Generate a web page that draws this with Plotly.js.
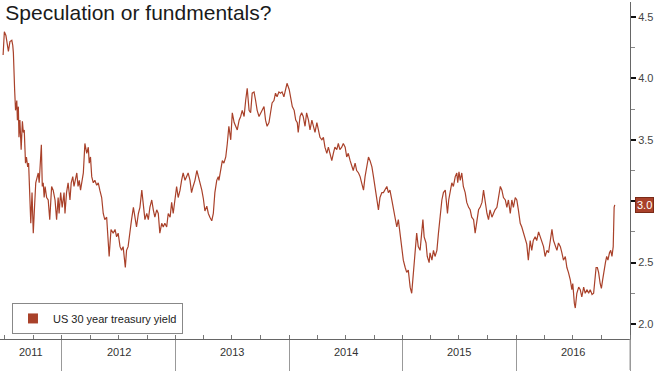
<!DOCTYPE html>
<html>
<head>
<meta charset="utf-8">
<script src="https://cdn.plot.ly/plotly-3.0.1.min.js"></script>
<style>html,body{margin:0;padding:0;background:#fff;}#chart{width:659px;height:375px;}</style>
</head>
<body>
<div id="chart"></div>
<script>
const chartTitle = "Speculation or fundmentals?";
const seriesName = "US 30 year treasury yield";
const yearLabels = ["2011", "2012", "2013", "2014", "2015", "2016"];
const yearStarts = ["2011-01-01", "2012-01-01", "2013-01-01", "2014-01-01", "2015-01-01", "2016-01-01", "2017-01-01"];
const yTickVals = [2.0, 2.5, 3.0, 3.5, 4.0, 4.5];
const xRange = ["2011-06-16", "2017-01-01"];
const yRange = [1.878, 4.622];

const dates = [
"2011-06-26","2011-06-30","2011-07-05","2011-07-13","2011-07-18","2011-07-24","2011-07-27","2011-07-29",
"2011-08-02","2011-08-05","2011-08-09","2011-08-11","2011-08-14","2011-08-16","2011-08-19","2011-08-23",
"2011-08-27","2011-08-30","2011-09-02","2011-09-06","2011-09-09","2011-09-13","2011-09-16","2011-09-20",
"2011-09-23","2011-09-27","2011-10-01","2011-10-05","2011-10-09","2011-10-14","2011-10-17","2011-10-20",
"2011-10-23","2011-10-27","2011-10-30","2011-11-02","2011-11-05","2011-11-08","2011-11-13","2011-11-18",
"2011-11-23","2011-11-29","2011-12-04","2011-12-10","2011-12-15","2011-12-20","2011-12-23","2011-12-28",
"2012-01-02","2012-01-08","2012-01-11","2012-01-16","2012-01-21","2012-01-27","2012-01-31","2012-02-05",
"2012-02-09","2012-02-13","2012-02-18","2012-02-22","2012-02-26","2012-03-01","2012-03-05","2012-03-10",
"2012-03-15","2012-03-21","2012-03-26","2012-03-29","2012-04-02","2012-04-06","2012-04-11","2012-04-16",
"2012-04-22","2012-04-27","2012-05-02","2012-05-08","2012-05-13","2012-05-18","2012-05-24","2012-05-29",
"2012-06-01","2012-06-07","2012-06-14","2012-06-20","2012-06-25","2012-06-30","2012-07-06","2012-07-11",
"2012-07-16","2012-07-23","2012-07-27","2012-08-01","2012-08-07","2012-08-12","2012-08-18","2012-08-23",
"2012-08-28","2012-09-03","2012-09-08","2012-09-14","2012-09-19","2012-09-24","2012-09-30","2012-10-05",
"2012-10-10","2012-10-16","2012-10-21","2012-10-26","2012-11-01","2012-11-06","2012-11-11","2012-11-17",
"2012-11-22","2012-11-27","2012-12-03","2012-12-08","2012-12-14","2012-12-19","2012-12-24","2012-12-30",
"2013-01-04","2013-01-09","2013-01-15","2013-01-20","2013-01-25","2013-01-31","2013-02-05","2013-02-10",
"2013-02-16","2013-02-21","2013-02-26","2013-03-04","2013-03-10","2013-03-15","2013-03-20","2013-03-26",
"2013-03-31","2013-04-05","2013-04-11","2013-04-16","2013-04-21","2013-04-27","2013-05-02","2013-05-07",
"2013-05-13","2013-05-18","2013-05-20","2013-05-26","2013-05-31","2013-06-05","2013-06-11","2013-06-16",
"2013-06-21","2013-06-27","2013-07-02","2013-07-08","2013-07-13","2013-07-18","2013-07-24","2013-07-29",
"2013-08-03","2013-08-09","2013-08-14","2013-08-19","2013-08-25","2013-08-30","2013-09-04","2013-09-10",
"2013-09-15","2013-09-20","2013-09-26","2013-10-01","2013-10-06","2013-10-12","2013-10-17","2013-10-22",
"2013-10-28","2013-11-02","2013-11-07","2013-11-13","2013-11-18","2013-11-23","2013-11-29","2013-12-04",
"2013-12-09","2013-12-15","2013-12-20","2013-12-25","2014-01-01","2014-01-06","2014-01-11","2014-01-17",
"2014-01-22","2014-01-27","2014-01-30","2014-02-05","2014-02-10","2014-02-15","2014-02-21","2014-02-26",
"2014-03-04","2014-03-09","2014-03-15","2014-03-20","2014-03-25","2014-03-31","2014-04-05","2014-04-10",
"2014-04-16","2014-04-21","2014-04-26","2014-05-02","2014-05-07","2014-05-12","2014-05-18","2014-05-23",
"2014-05-28","2014-06-03","2014-06-08","2014-06-13","2014-06-19","2014-06-24","2014-06-30","2014-07-05",
"2014-07-10","2014-07-16","2014-07-21","2014-07-26","2014-08-01","2014-08-06","2014-08-12","2014-08-17",
"2014-08-22","2014-08-28","2014-09-02","2014-09-08","2014-09-13","2014-09-18","2014-09-24","2014-09-29",
"2014-10-04","2014-10-10","2014-10-15","2014-10-20","2014-10-26","2014-10-31","2014-11-05","2014-11-11",
"2014-11-16","2014-11-21","2014-11-27","2014-12-02","2014-12-07","2014-12-13","2014-12-18","2014-12-23",
"2014-12-29","2015-01-03","2015-01-09","2015-01-14","2015-01-19","2015-01-25","2015-01-30","2015-02-04",
"2015-02-09","2015-02-15","2015-02-20","2015-02-26","2015-03-07","2015-03-11","2015-03-17","2015-03-21",
"2015-03-27","2015-03-30","2015-04-05","2015-04-10","2015-04-15","2015-04-21","2015-04-26","2015-05-01",
"2015-05-07","2015-05-12","2015-05-18","2015-05-21","2015-05-25","2015-05-29","2015-06-03","2015-06-08",
"2015-06-13","2015-06-19","2015-06-24","2015-06-27","2015-07-01","2015-07-05","2015-07-10","2015-07-15",
"2015-07-21","2015-07-26","2015-08-01","2015-08-06","2015-08-11","2015-08-17","2015-08-22","2015-08-28",
"2015-09-02","2015-09-07","2015-09-13","2015-09-18","2015-09-23","2015-09-29","2015-10-04","2015-10-09",
"2015-10-15","2015-10-20","2015-10-25","2015-10-31","2015-11-05","2015-11-11","2015-11-16","2015-11-21",
"2015-11-27","2015-12-02","2015-12-07","2015-12-13","2015-12-18","2015-12-23","2015-12-29","2016-01-03",
"2016-01-08","2016-01-14","2016-01-19","2016-01-24","2016-01-30","2016-02-04","2016-02-09","2016-02-15",
"2016-02-20","2016-02-25","2016-03-02","2016-03-07","2016-03-13","2016-03-18","2016-03-24","2016-03-29",
"2016-04-03","2016-04-09","2016-04-14","2016-04-19","2016-04-25","2016-04-30","2016-05-06","2016-05-11",
"2016-05-16","2016-05-22","2016-05-27","2016-06-01","2016-06-07","2016-06-12","2016-06-17","2016-06-23",
"2016-06-28","2016-07-01","2016-07-06","2016-07-09","2016-07-14","2016-07-20","2016-07-25","2016-07-30",
"2016-08-05","2016-08-10","2016-08-16","2016-08-21","2016-08-26","2016-09-01","2016-09-06","2016-09-11",
"2016-09-14","2016-09-18","2016-09-22","2016-09-27","2016-10-01","2016-10-05","2016-10-09","2016-10-14",
"2016-10-18","2016-10-22","2016-10-27","2016-10-31","2016-11-04","2016-11-08","2016-11-11","2016-11-13"
];

const yields = [
4.19,4.38,4.35,4.22,4.30,4.31,4.27,4.21,
3.91,3.74,3.82,3.66,3.77,3.52,3.66,3.42,
3.65,3.56,3.58,3.31,3.36,3.28,3.31,3.03,
2.82,3.07,2.74,2.95,3.15,3.20,3.23,3.15,
3.28,3.46,3.12,3.15,3.03,3.12,3.03,3.01,
2.85,3.12,3.09,3.01,2.85,3.03,2.90,3.07,
2.95,3.07,2.90,3.07,3.15,3.01,3.15,3.20,
3.12,3.17,3.23,3.12,3.17,3.09,3.17,3.23,
3.47,3.39,3.44,3.31,3.36,3.20,3.15,3.17,
3.13,3.15,3.09,3.03,2.90,2.85,2.87,2.71,
2.55,2.77,2.74,2.77,2.71,2.74,2.63,2.60,
2.63,2.46,2.60,2.63,2.77,2.85,2.95,2.85,
2.79,2.90,2.95,3.09,2.95,2.85,2.90,2.85,
2.95,3.01,2.93,2.87,2.93,2.90,2.74,2.82,
2.79,2.82,2.79,2.90,2.87,2.99,2.90,3.03,
3.12,3.03,3.09,3.17,3.23,3.17,3.20,3.23,
3.17,3.07,3.12,3.17,3.25,3.20,3.17,3.09,
3.02,2.92,2.96,2.90,2.87,2.84,2.90,3.07,
3.17,3.20,3.17,3.28,3.33,3.31,3.36,3.47,
3.61,3.50,3.72,3.64,3.61,3.58,3.66,3.69,
3.74,3.69,3.82,3.92,3.74,3.72,3.88,3.89,
3.82,3.74,3.69,3.72,3.74,3.77,3.66,3.61,
3.64,3.72,3.80,3.82,3.88,3.85,3.89,3.88,
3.89,3.85,3.92,3.96,3.91,3.82,3.77,3.74,
3.66,3.64,3.56,3.69,3.72,3.69,3.61,3.72,
3.66,3.58,3.66,3.61,3.56,3.64,3.58,3.52,
3.50,3.52,3.44,3.39,3.44,3.39,3.33,3.39,
3.44,3.42,3.47,3.42,3.44,3.47,3.44,3.36,
3.39,3.33,3.28,3.25,3.31,3.25,3.23,3.20,
3.15,3.09,3.20,3.28,3.36,3.33,3.28,3.20,
3.12,3.01,2.93,3.03,3.07,3.07,3.09,3.12,
3.07,3.09,3.01,2.95,2.87,2.79,2.85,2.74,
2.63,2.52,2.46,2.42,2.44,2.30,2.25,2.42,
2.58,2.74,2.63,2.60,2.85,2.71,2.66,2.55,
2.50,2.58,2.52,2.60,2.55,2.60,2.74,2.87,
3.01,3.07,3.09,3.01,2.90,3.01,3.09,3.15,
3.12,3.20,3.23,3.15,3.24,3.17,3.23,3.12,
3.07,2.99,2.95,2.93,2.87,2.85,2.74,2.87,
2.93,2.95,2.99,3.09,2.99,2.90,2.85,2.93,
2.87,2.90,2.93,2.95,3.03,3.12,3.09,3.03,
3.01,2.95,3.01,2.90,3.01,2.95,3.03,3.01,
2.93,2.82,2.79,2.74,2.70,2.65,2.52,2.68,
2.60,2.68,2.71,2.68,2.75,2.71,2.68,2.63,
2.55,2.60,2.58,2.68,2.77,2.68,2.63,2.60,
2.66,2.63,2.58,2.52,2.55,2.46,2.42,2.36,
2.28,2.33,2.17,2.13,2.25,2.30,2.28,2.22,
2.30,2.25,2.28,2.25,2.28,2.24,2.25,2.36,
2.46,2.46,2.42,2.33,2.29,2.36,2.44,2.50,
2.55,2.52,2.58,2.60,2.55,2.63,2.95,2.97
];

const lineColor = "#a9412a";
const fontFam = "Liberation Sans, Arial, sans-serif";

function toMs(s){ return new Date(s + "T00:00:00Z").getTime(); }
const r0 = toMs(xRange[0]), r1 = toMs(xRange[1]);
const annotations = yearLabels.map((lab, i) => {
  const a = Math.max(toMs(yearStarts[i]), r0);
  const b = Math.min(toMs(yearStarts[i + 1]), r1);
  const mid = new Date((a + b) / 2).toISOString().slice(0, 10);
  return {x: mid, y: 0, xref: "x", yref: "paper", yshift: -21, showarrow: false,
          text: lab, font: {family: fontFam, size: 11, color: "#333"}};
});
const lastVal = yields[yields.length - 1];
const lastLabel = lastVal.toFixed(1);
annotations.push({x: 1, xref: "paper", y: lastVal, yref: "y", xanchor: "left", xshift: 5,
  showarrow: false, text: lastLabel, bgcolor: lineColor, bordercolor: "#7a2a18", borderwidth: 1,
  borderpad: 1, font: {family: fontFam, size: 11, color: "#fff"}});

// tick label hidden where the last-value tag sits on top of it
const yTickText = yTickVals.map(v => v.toFixed(1) === lastLabel ? "" : v.toFixed(1));

const traces = [
  {x: dates, y: yields, type: "scatter", mode: "lines", name: seriesName, showlegend: false,
   line: {color: lineColor, width: 1.2}},
  {x: [null], y: [null], type: "scatter", mode: "markers", name: seriesName, showlegend: true,
   marker: {symbol: "square", size: 10, color: lineColor}}
];

const layout = {
  width: 659, height: 375,
  margin: {l: 0, r: 29, t: 2, b: 36},
  paper_bgcolor: "#fff", plot_bgcolor: "#fff",
  title: {text: chartTitle, x: 0.008, xanchor: "left", xref: "container", y: 0.985, yanchor: "top", yref: "container",
          font: {family: fontFam, size: 21, color: "#1a1a1a"}},
  xaxis: {type: "date", range: xRange, showgrid: false, zeroline: false,
          showline: true, linecolor: "#666", linewidth: 1,
          tickmode: "array", tickvals: yearStarts, showticklabels: false,
          ticks: "outside", ticklen: 31, tickcolor: "#999", tickwidth: 1,
          minor: {dtick: "M3", tick0: "2011-01-01", ticks: "inside", ticklen: 4, tickcolor: "#777", tickwidth: 1}},
  yaxis: {side: "right", range: yRange, showgrid: false, zeroline: false,
          showline: true, linecolor: "#666", linewidth: 1,
          tickmode: "array", tickvals: yTickVals, ticktext: yTickText,
          ticks: "outside", ticklen: 5, tickwidth: 2, tickcolor: "#111",
          tickfont: {family: fontFam, size: 11, color: "#444"},
          minor: {dtick: 0.25, tick0: 2, ticks: "outside", ticklen: 4, tickcolor: "#888", tickwidth: 1}},
  legend: {x: 0.019, y: 0.015, xanchor: "left", yanchor: "bottom", bgcolor: "#fff",
           bordercolor: "#888", borderwidth: 1, itemwidth: 30, tracegroupgap: 0,
           font: {family: fontFam, size: 11, color: "#222"}},
  shapes: [{type: "line", xref: "paper", yref: "paper", x0: 1, x1: 1, y0: 0, y1: -0.092,
            line: {color: "#999", width: 1}}],
  annotations: annotations
};

Plotly.newPlot("chart", traces, layout, {displayModeBar: false, staticPlot: true});
</script>
</body>
</html>
